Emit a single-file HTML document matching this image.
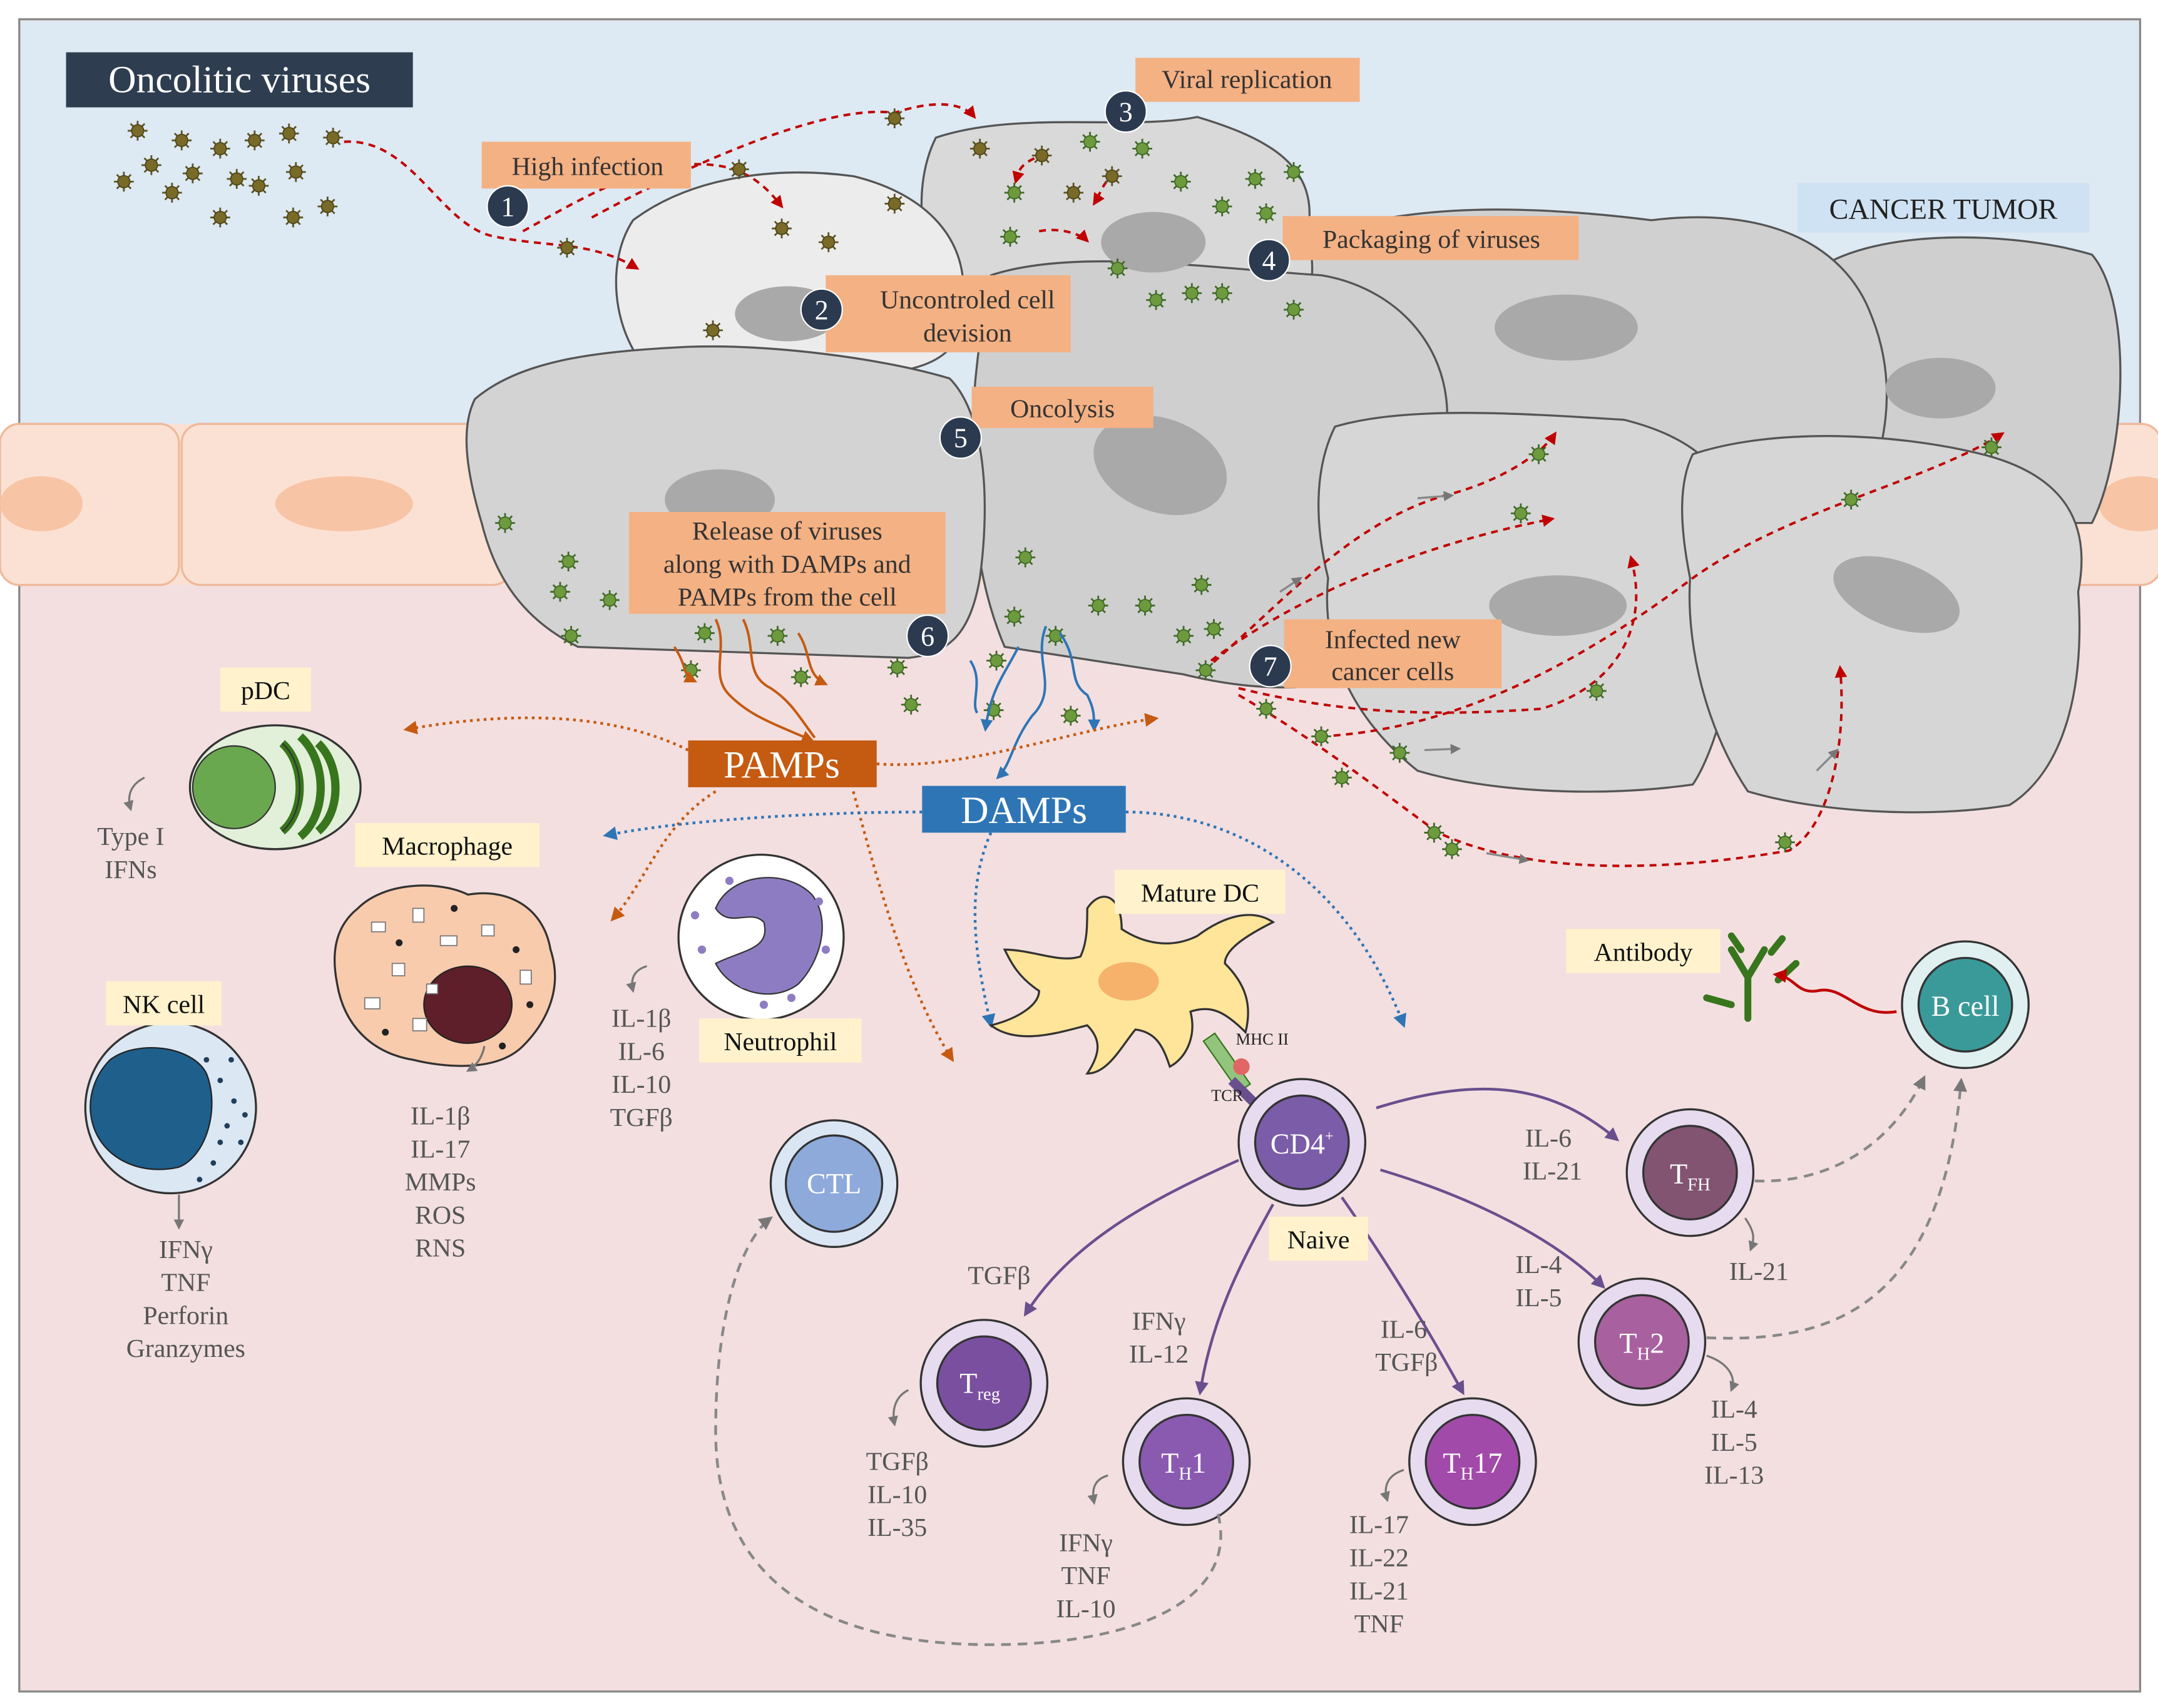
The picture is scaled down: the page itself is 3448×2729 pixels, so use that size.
<!DOCTYPE html>
<html><head><meta charset="utf-8"><style>
html,body{margin:0;padding:0;background:#fff}
svg{display:block}
text{font-family:"Liberation Serif",serif}
</style></head><body>
<svg width="3448" height="2729" viewBox="0 0 1568 1241" preserveAspectRatio="none" xmlns="http://www.w3.org/2000/svg">
<defs>
<symbol id="vb" viewBox="-10 -10 20 20" overflow="visible">
<g stroke="#5b5320" stroke-width="1.6"><line x1="-9" y1="0" x2="9" y2="0"/><line x1="0" y1="-9" x2="0" y2="9"/><line x1="-6.4" y1="-6.4" x2="6.4" y2="6.4"/><line x1="-6.4" y1="6.4" x2="6.4" y2="-6.4"/></g>
<circle r="5.5" fill="#7a6a28" stroke="#4d4418"/>
</symbol>
<symbol id="vg" viewBox="-10 -10 20 20" overflow="visible">
<g stroke="#3e6a25" stroke-width="1.6"><line x1="-9" y1="0" x2="9" y2="0"/><line x1="0" y1="-9" x2="0" y2="9"/><line x1="-6.4" y1="-6.4" x2="6.4" y2="6.4"/><line x1="-6.4" y1="6.4" x2="6.4" y2="-6.4"/></g>
<circle r="5.5" fill="#6d9a3c" stroke="#3e6a25"/>
</symbol>
<marker id="ar" viewBox="0 0 10 10" refX="8" refY="5" markerWidth="5" markerHeight="5" orient="auto"><path d="M0,0L10,5L0,10z" fill="#c00000"/></marker>
<marker id="ao" viewBox="0 0 10 10" refX="8" refY="5" markerWidth="5" markerHeight="5" orient="auto"><path d="M0,0L10,5L0,10z" fill="#c55a11"/></marker>
<marker id="ab" viewBox="0 0 10 10" refX="8" refY="5" markerWidth="5" markerHeight="5" orient="auto"><path d="M0,0L10,5L0,10z" fill="#2e75b6"/></marker>
<marker id="ap" viewBox="0 0 10 10" refX="8" refY="5" markerWidth="5" markerHeight="5" orient="auto"><path d="M0,0L10,5L0,10z" fill="#6a4f8e"/></marker>
<marker id="ag" viewBox="0 0 10 10" refX="8" refY="5" markerWidth="5" markerHeight="5" orient="auto"><path d="M0,0L10,5L0,10z" fill="#777"/></marker>
</defs>
<rect width="1568" height="1241" fill="#fff"/>
<rect x="14" y="14" width="1541" height="1215" fill="#f3dfe0" stroke="#888" stroke-width="1.5"/>
<rect x="15" y="15" width="1539" height="295" fill="#dde9f3"/>
<rect x="15" y="308" width="1539" height="117" fill="#fbe1d3"/>
<g fill="#fbe1d3" stroke="#f0b89a" stroke-width="1.5">
<rect x="0" y="308" width="130" height="117" rx="14"/>
<rect x="132" y="308" width="240" height="117" rx="14"/>
<rect x="1490" y="308" width="80" height="117" rx="14"/>
</g>
<g fill="#f7c4a6"><ellipse cx="250" cy="366" rx="50" ry="20"/><ellipse cx="30" cy="366" rx="30" ry="20"/><ellipse cx="1555" cy="366" rx="30" ry="20"/></g>
<!-- cancer cells -->
<g stroke="#555" stroke-width="1.5">
<path d="M1330,190 C1380,165 1470,170 1520,185 C1550,220 1545,330 1520,380 L1350,380 C1330,320 1320,250 1330,190z" fill="#cfcfcf"/>
<path d="M950,175 C1020,145 1120,150 1200,160 C1280,150 1340,175 1360,230 C1380,280 1370,330 1350,370 L1000,370 C960,330 940,260 950,175z" fill="#d0d0d0"/>
<path d="M680,100 C740,80 820,95 870,85 C920,100 960,120 950,170 C960,210 950,240 900,250 L700,240 C670,200 660,140 680,100z" fill="#d9d9d9"/>
<path d="M460,160 C500,130 560,120 620,128 C670,140 700,170 700,210 C705,245 690,265 650,270 L470,268 C445,240 440,190 460,160z" fill="#ececec"/>
<path d="M720,200 C780,180 880,195 960,200 C1020,210 1060,260 1050,320 C1060,400 1040,470 1000,490 C950,505 900,500 860,490 L730,470 C700,400 700,300 720,200z" fill="#cfcfcf"/>
<path d="M345,290 C380,260 440,255 500,252 C560,250 640,260 690,275 C715,300 720,360 712,420 C705,460 690,475 660,478 L420,470 C380,450 360,420 350,380 C338,340 335,310 345,290z" fill="#d3d3d3"/>
<path d="M970,310 C1020,295 1100,300 1180,305 C1240,320 1265,350 1260,400 C1270,460 1250,540 1230,570 C1160,580 1080,575 1030,560 C980,520 960,470 965,420 C955,380 955,340 970,310z" fill="#d6d6d6"/>
<path d="M1230,330 C1290,310 1380,315 1440,330 C1500,345 1520,380 1510,430 C1515,500 1500,560 1460,585 C1400,595 1320,590 1270,575 C1240,530 1225,470 1228,420 C1220,380 1220,350 1230,330z" fill="#d6d6d6"/>
</g>
<g fill="#a9a9a9">
<ellipse cx="1410" cy="282" rx="40" ry="22"/><ellipse cx="1138" cy="238" rx="52" ry="24"/>
<ellipse cx="838" cy="176" rx="38" ry="22"/><ellipse cx="572" cy="228" rx="38" ry="20"/>
<ellipse cx="843" cy="338" rx="50" ry="34" transform="rotate(20 843 338)"/><ellipse cx="523" cy="363" rx="40" ry="22"/>
<ellipse cx="1132" cy="440" rx="50" ry="22"/><ellipse cx="1378" cy="432" rx="48" ry="24" transform="rotate(20 1378 432)"/>
</g>
<!-- red dashed paths -->
<g fill="none" stroke="#c00000" stroke-width="1.8" stroke-dasharray="5,4">
<path d="M250,103 C300,100 320,165 360,172 C400,180 430,175 463,195" marker-end="url(#ar)"/>
<path d="M380,168 C430,140 480,110 530,122 C550,128 560,140 568,150" marker-end="url(#ar)"/>
<path d="M430,158 C500,120 600,75 650,82 C680,72 700,75 708,85" marker-end="url(#ar)"/>
<path d="M760,112 C740,118 740,125 738,132" marker-end="url(#ar)"/>
<path d="M810,125 C800,135 800,140 795,148" marker-end="url(#ar)"/>
<path d="M755,168 C770,165 785,170 790,175" marker-end="url(#ar)"/>
<path d="M875,487 C930,440 980,380 1050,360 C1090,350 1120,330 1130,315" marker-end="url(#ar)"/>
<path d="M880,480 C960,420 1060,390 1128,377" marker-end="url(#ar)"/>
<path d="M900,500 C980,520 1050,520 1120,515 C1170,500 1200,460 1185,405" marker-end="url(#ar)"/>
<path d="M960,535 C1060,530 1150,480 1230,420 C1300,370 1400,350 1455,315" marker-end="url(#ar)"/>
<path d="M900,505 C960,540 1010,580 1045,605 C1120,640 1230,630 1300,618 C1330,600 1342,540 1337,485" marker-end="url(#ar)"/>
</g>
<g fill="none" stroke="#888" stroke-width="1.5">
<path d="M1030,362 L1055,360" marker-end="url(#ag)"/><path d="M1035,545 L1060,544" marker-end="url(#ag)"/>
<path d="M1080,620 L1110,625" marker-end="url(#ag)"/><path d="M1320,560 L1335,545" marker-end="url(#ag)"/>
<path d="M930,430 L945,420" marker-end="url(#ag)"/>
</g>
<!-- viruses -->
<g>
<use href="#vb" x="-8" y="-8" width="16" height="16" transform="translate(100,95)"/>
<use href="#vb" x="-8" y="-8" width="16" height="16" transform="translate(132,102)"/>
<use href="#vb" x="-8" y="-8" width="16" height="16" transform="translate(160,108)"/>
<use href="#vb" x="-8" y="-8" width="16" height="16" transform="translate(185,102)"/>
<use href="#vb" x="-8" y="-8" width="16" height="16" transform="translate(210,97)"/>
<use href="#vb" x="-8" y="-8" width="16" height="16" transform="translate(242,100)"/>
<use href="#vb" x="-8" y="-8" width="16" height="16" transform="translate(110,120)"/>
<use href="#vb" x="-8" y="-8" width="16" height="16" transform="translate(140,126)"/>
<use href="#vb" x="-8" y="-8" width="16" height="16" transform="translate(172,130)"/>
<use href="#vb" x="-8" y="-8" width="16" height="16" transform="translate(215,125)"/>
<use href="#vb" x="-8" y="-8" width="16" height="16" transform="translate(90,132)"/>
<use href="#vb" x="-8" y="-8" width="16" height="16" transform="translate(125,140)"/>
<use href="#vb" x="-8" y="-8" width="16" height="16" transform="translate(160,158)"/>
<use href="#vb" x="-8" y="-8" width="16" height="16" transform="translate(213,158)"/>
<use href="#vb" x="-8" y="-8" width="16" height="16" transform="translate(238,150)"/>
<use href="#vb" x="-8" y="-8" width="16" height="16" transform="translate(188,135)"/>
<use href="#vb" x="-8" y="-8" width="16" height="16" transform="translate(412,180)"/>
<use href="#vb" x="-8" y="-8" width="16" height="16" transform="translate(537,123)"/>
<use href="#vb" x="-8" y="-8" width="16" height="16" transform="translate(568,166)"/>
<use href="#vb" x="-8" y="-8" width="16" height="16" transform="translate(602,176)"/>
<use href="#vb" x="-8" y="-8" width="16" height="16" transform="translate(650,148)"/>
<use href="#vb" x="-8" y="-8" width="16" height="16" transform="translate(650,86)"/>
<use href="#vb" x="-8" y="-8" width="16" height="16" transform="translate(518,240)"/>
<use href="#vb" x="-8" y="-8" width="16" height="16" transform="translate(712,108)"/>
<use href="#vb" x="-8" y="-8" width="16" height="16" transform="translate(757,113)"/>
<use href="#vb" x="-8" y="-8" width="16" height="16" transform="translate(808,128)"/>
<use href="#vb" x="-8" y="-8" width="16" height="16" transform="translate(780,140)"/>
</g>
<g>
<use href="#vg" x="-8" y="-8" width="16" height="16" transform="translate(792,103)"/>
<use href="#vg" x="-8" y="-8" width="16" height="16" transform="translate(830,108)"/>
<use href="#vg" x="-8" y="-8" width="16" height="16" transform="translate(858,132)"/>
<use href="#vg" x="-8" y="-8" width="16" height="16" transform="translate(888,150)"/>
<use href="#vg" x="-8" y="-8" width="16" height="16" transform="translate(912,130)"/>
<use href="#vg" x="-8" y="-8" width="16" height="16" transform="translate(940,125)"/>
<use href="#vg" x="-8" y="-8" width="16" height="16" transform="translate(920,155)"/>
<use href="#vg" x="-8" y="-8" width="16" height="16" transform="translate(737,140)"/>
<use href="#vg" x="-8" y="-8" width="16" height="16" transform="translate(734,172)"/>
<use href="#vg" x="-8" y="-8" width="16" height="16" transform="translate(812,195)"/>
<use href="#vg" x="-8" y="-8" width="16" height="16" transform="translate(840,218)"/>
<use href="#vg" x="-8" y="-8" width="16" height="16" transform="translate(866,213)"/>
<use href="#vg" x="-8" y="-8" width="16" height="16" transform="translate(888,213)"/>
<use href="#vg" x="-8" y="-8" width="16" height="16" transform="translate(940,225)"/>
<use href="#vg" x="-8" y="-8" width="16" height="16" transform="translate(367,380)"/>
<use href="#vg" x="-8" y="-8" width="16" height="16" transform="translate(413,408)"/>
<use href="#vg" x="-8" y="-8" width="16" height="16" transform="translate(407,430)"/>
<use href="#vg" x="-8" y="-8" width="16" height="16" transform="translate(443,436)"/>
<use href="#vg" x="-8" y="-8" width="16" height="16" transform="translate(415,462)"/>
<use href="#vg" x="-8" y="-8" width="16" height="16" transform="translate(512,460)"/>
<use href="#vg" x="-8" y="-8" width="16" height="16" transform="translate(565,462)"/>
<use href="#vg" x="-8" y="-8" width="16" height="16" transform="translate(502,487)"/>
<use href="#vg" x="-8" y="-8" width="16" height="16" transform="translate(582,492)"/>
<use href="#vg" x="-8" y="-8" width="16" height="16" transform="translate(652,485)"/>
<use href="#vg" x="-8" y="-8" width="16" height="16" transform="translate(662,512)"/>
<use href="#vg" x="-8" y="-8" width="16" height="16" transform="translate(724,480)"/>
<use href="#vg" x="-8" y="-8" width="16" height="16" transform="translate(722,516)"/>
<use href="#vg" x="-8" y="-8" width="16" height="16" transform="translate(778,520)"/>
<use href="#vg" x="-8" y="-8" width="16" height="16" transform="translate(745,405)"/>
<use href="#vg" x="-8" y="-8" width="16" height="16" transform="translate(737,448)"/>
<use href="#vg" x="-8" y="-8" width="16" height="16" transform="translate(767,462)"/>
<use href="#vg" x="-8" y="-8" width="16" height="16" transform="translate(798,440)"/>
<use href="#vg" x="-8" y="-8" width="16" height="16" transform="translate(832,440)"/>
<use href="#vg" x="-8" y="-8" width="16" height="16" transform="translate(873,425)"/>
<use href="#vg" x="-8" y="-8" width="16" height="16" transform="translate(882,457)"/>
<use href="#vg" x="-8" y="-8" width="16" height="16" transform="translate(860,462)"/>
<use href="#vg" x="-8" y="-8" width="16" height="16" transform="translate(876,487)"/>
<use href="#vg" x="-8" y="-8" width="16" height="16" transform="translate(920,515)"/>
<use href="#vg" x="-8" y="-8" width="16" height="16" transform="translate(960,535)"/>
<use href="#vg" x="-8" y="-8" width="16" height="16" transform="translate(975,565)"/>
<use href="#vg" x="-8" y="-8" width="16" height="16" transform="translate(1017,547)"/>
<use href="#vg" x="-8" y="-8" width="16" height="16" transform="translate(1042,605)"/>
<use href="#vg" x="-8" y="-8" width="16" height="16" transform="translate(1055,617)"/>
<use href="#vg" x="-8" y="-8" width="16" height="16" transform="translate(1118,330)"/>
<use href="#vg" x="-8" y="-8" width="16" height="16" transform="translate(1105,373)"/>
<use href="#vg" x="-8" y="-8" width="16" height="16" transform="translate(1160,502)"/>
<use href="#vg" x="-8" y="-8" width="16" height="16" transform="translate(1345,363)"/>
<use href="#vg" x="-8" y="-8" width="16" height="16" transform="translate(1447,325)"/>
<use href="#vg" x="-8" y="-8" width="16" height="16" transform="translate(1297,612)"/>
</g>
<!-- wavy PAMP/DAMP release -->
<g fill="none" stroke="#c55a11" stroke-width="1.8">
<path d="M520,450 C530,470 515,490 530,505 C545,520 560,525 590,538" marker-end="url(#ao)"/>
<path d="M540,450 C550,470 540,490 560,500 C575,510 580,520 592,536"/>
<path d="M580,460 C590,475 585,490 600,497" marker-end="url(#ao)"/>
<path d="M490,470 C500,485 495,490 505,495" marker-end="url(#ao)"/>
</g>
<g fill="none" stroke="#2e75b6" stroke-width="1.8">
<path d="M760,455 C750,480 770,500 750,520 C735,540 735,555 725,565" marker-end="url(#ab)"/>
<path d="M740,470 C730,490 720,500 716,530" marker-end="url(#ab)"/>
<path d="M770,460 C785,480 775,495 790,505 C795,515 795,520 795,530" marker-end="url(#ab)"/>
<path d="M705,480 C715,495 705,510 710,518"/>
</g>
<!-- dotted PAMP/DAMP spreading -->
<g fill="none" stroke="#c55a11" stroke-width="2" stroke-dasharray="2,3">
<path d="M500,545 C450,520 380,515 295,530" marker-end="url(#ao)"/>
<path d="M520,575 C480,600 470,640 445,668" marker-end="url(#ao)"/>
<path d="M620,575 C640,650 660,720 692,770" marker-end="url(#ao)"/>
<path d="M637,555 C700,560 780,530 840,522" marker-end="url(#ao)"/>
</g>
<g fill="none" stroke="#2e75b6" stroke-width="2" stroke-dasharray="2,3">
<path d="M670,590 C600,590 500,595 440,607" marker-end="url(#ab)"/>
<path d="M720,605 C700,650 710,700 720,745" marker-end="url(#ab)"/>
<path d="M818,590 C900,590 980,640 1020,745" marker-end="url(#ab)"/>
</g>
<!-- top labels -->
<rect x="48" y="38" width="252" height="40" fill="#2e3d50"/>
<text x="174" y="67" font-size="28" fill="#fff" text-anchor="middle">Oncolitic viruses</text>
<rect x="1306" y="133" width="212" height="36" fill="#cfe2f3"/>
<text x="1412" y="159" font-size="21" fill="#222" text-anchor="middle">CANCER TUMOR</text>
<g fill="#f4b183">
<rect x="350" y="103" width="152" height="34"/><rect x="825" y="42" width="163" height="32"/>
<rect x="932" y="157" width="215" height="32"/><rect x="600" y="200" width="178" height="56"/>
<rect x="706" y="281" width="132" height="30"/><rect x="457" y="372" width="230" height="74"/>
<rect x="933" y="450" width="158" height="50"/>
</g>
<g font-size="19" fill="#333" text-anchor="middle">
<text x="427" y="127">High infection</text><text x="906" y="64">Viral replication</text>
<text x="1040" y="180">Packaging of viruses</text>
<text x="703" y="224">Uncontroled cell</text><text x="703" y="248">devision</text>
<text x="772" y="303">Oncolysis</text>
<text x="572" y="392">Release of viruses</text><text x="572" y="416">along with DAMPs and</text><text x="572" y="440">PAMPs from the cell</text>
<text x="1012" y="471">Infected  new</text><text x="1012" y="494">cancer cells</text>
</g>
<g fill="#2b3a4f" stroke="#fff" stroke-width="1"><circle cx="369" cy="150" r="15"/><circle cx="597" cy="225" r="15"/><circle cx="818" cy="81" r="15"/><circle cx="922" cy="189" r="15"/><circle cx="698" cy="318" r="15"/><circle cx="674" cy="462" r="15"/><circle cx="923" cy="484" r="15"/></g>
<g font-size="20" fill="#fff" text-anchor="middle" font-family="Liberation Sans,sans-serif" style="font-family:'Liberation Sans',sans-serif"><text x="369" y="157">1</text><text x="597" y="232">2</text><text x="818" y="88">3</text><text x="922" y="196">4</text><text x="698" y="325">5</text><text x="674" y="469">6</text><text x="923" y="491">7</text></g>
<rect x="500" y="538" width="137" height="34" fill="#c55a11"/>
<text x="568" y="565" font-size="28" fill="#fff" text-anchor="middle">PAMPs</text>
<rect x="670" y="571" width="148" height="34" fill="#2e75b6"/>
<text x="744" y="598" font-size="28" fill="#fff" text-anchor="middle">DAMPs</text>
<!-- pDC -->
<ellipse cx="200" cy="572" rx="62" ry="45" fill="#e2efd9" stroke="#333" stroke-width="1.5"/>
<circle cx="170" cy="572" r="30" fill="#6aa84f" stroke="#333"/>
<g fill="none" stroke="#38761d" stroke-width="6"><path d="M205,540 C222,555 222,590 205,604"/><path d="M218,535 C238,553 238,592 218,608"/><path d="M231,540 C248,556 248,590 231,604"/></g>
<g fill="none" stroke="#333" stroke-width="1"><path d="M205,540 C222,555 222,590 205,604"/></g>
<!-- macrophage -->
<path d="M260,660 C280,640 320,640 340,650 C370,645 395,660 400,690 C410,720 395,745 380,760 C360,780 320,775 300,770 C270,765 250,745 245,715 C240,690 245,672 260,660z" fill="#f8cbad" stroke="#333" stroke-width="1.5"/>
<ellipse cx="340" cy="730" rx="32" ry="28" fill="#5e1f2a" stroke="#222"/>
<g fill="#fff" stroke="#777" stroke-width=".8"><rect x="270" y="670" width="10" height="7"/><rect x="300" y="660" width="8" height="10"/><rect x="320" y="680" width="12" height="7"/><rect x="285" y="700" width="9" height="9"/><rect x="265" y="725" width="11" height="8"/><rect x="300" y="740" width="10" height="9"/><rect x="350" y="672" width="9" height="8"/><rect x="378" y="705" width="8" height="10"/><rect x="310" y="715" width="8" height="7"/></g>
<g fill="#222"><circle cx="290" cy="685" r="2.5"/><circle cx="375" cy="690" r="2.5"/><circle cx="385" cy="730" r="2.5"/><circle cx="280" cy="750" r="2.5"/><circle cx="330" cy="660" r="2.5"/><circle cx="365" cy="760" r="2.5"/></g>
<!-- NK -->
<circle cx="124" cy="805" r="62" fill="#dbe7f3" stroke="#333" stroke-width="1.5"/>
<path d="M80,770 C100,755 140,760 150,780 C160,805 150,840 130,848 C100,855 70,840 66,810 C64,795 70,780 80,770z" fill="#1f5f8b" stroke="#222"/>
<g fill="#1f3f5b"><circle cx="160" cy="785" r="2"/><circle cx="170" cy="800" r="2"/><circle cx="165" cy="818" r="2"/><circle cx="175" cy="830" r="2"/><circle cx="155" cy="845" r="2"/><circle cx="150" cy="770" r="2"/><circle cx="168" cy="770" r="2"/><circle cx="178" cy="810" r="2"/><circle cx="160" cy="830" r="2"/><circle cx="145" cy="857" r="2"/></g>
<!-- neutrophil -->
<circle cx="553" cy="681" r="60" fill="#fff" stroke="#333" stroke-width="1.5"/>
<path d="M520,660 C530,635 570,630 590,650 C605,670 595,700 580,715 C560,730 530,720 520,700 C540,690 560,690 555,670 C545,660 530,675 520,660z" fill="#8e7cc3" stroke="#333"/>
<g fill="#8e7cc3"><circle cx="510" cy="690" r="3"/><circle cx="600" cy="690" r="3"/><circle cx="530" cy="640" r="3"/><circle cx="575" cy="725" r="3"/><circle cx="505" cy="665" r="3"/><circle cx="555" cy="730" r="3"/><circle cx="595" cy="655" r="3"/><circle cx="540" cy="715" r="3"/></g>
<!-- mature DC -->
<path d="M790,660 C800,645 815,650 815,675 C830,685 850,690 870,680 C890,665 910,660 925,670 C905,680 890,690 890,700 C905,715 910,730 905,750 C890,735 880,730 865,735 C870,755 860,770 850,775 C845,760 840,750 825,748 C815,760 805,780 790,780 C800,765 800,755 790,745 C770,750 740,760 720,745 C740,740 755,730 755,720 C740,710 735,700 730,690 C750,690 770,700 785,695 C790,685 790,672 790,660z" fill="#ffe599" stroke="#333" stroke-width="1.5"/>
<ellipse cx="820" cy="713" rx="22" ry="14" fill="#f6b26b"/>
<g transform="rotate(55 890 770)"><rect x="870" y="765" width="45" height="10" fill="#93c47d" stroke="#38761d"/></g>
<circle cx="902" cy="775" r="6" fill="#e06666"/>
<path d="M895,785 L915,805" stroke="#6a4f8e" stroke-width="7"/>
<text x="898" y="759" font-size="12" fill="#222">MHC II</text>
<text x="880" y="800" font-size="12" fill="#222">TCR</text>
<!-- T cells -->
<g stroke="#333" stroke-width="1.5">
<circle cx="946" cy="830" r="46" fill="#e6dbef"/><circle cx="946" cy="830" r="34" fill="#7b5ca8"/>
<circle cx="606" cy="860" r="46" fill="#dbe6f5"/><circle cx="606" cy="860" r="35" fill="#8eaadb"/>
<circle cx="715" cy="1005" r="46" fill="#e6dbef"/><circle cx="715" cy="1005" r="34" fill="#7a4fa0"/>
<circle cx="862" cy="1062" r="46" fill="#e6dbef"/><circle cx="862" cy="1062" r="34" fill="#8a5ab0"/>
<circle cx="1070" cy="1062" r="46" fill="#e6dbef"/><circle cx="1070" cy="1062" r="34" fill="#a24aaa"/>
<circle cx="1228" cy="852" r="46" fill="#e6dbef"/><circle cx="1228" cy="852" r="34" fill="#835472"/>
<circle cx="1193" cy="975" r="46" fill="#e6dbef"/><circle cx="1193" cy="975" r="34" fill="#a8619e"/>
<circle cx="1428" cy="730" r="46" fill="#e0f0f0"/><circle cx="1428" cy="730" r="34" fill="#3a9a9a"/>
</g>
<g font-size="21" fill="#fff" text-anchor="middle">
<text x="946" y="838">CD4<tspan font-size="11" dy="-9">+</tspan></text>
<text x="606" y="867">CTL</text>
<text x="712" y="1012">T<tspan font-size="13" dy="5">reg</tspan></text>
<text x="860" y="1070">T<tspan font-size="13" dy="5">H</tspan><tspan dy="-5">1</tspan></text>
<text x="1070" y="1070">T<tspan font-size="13" dy="5">H</tspan><tspan dy="-5">17</tspan></text>
<text x="1228" y="860">T<tspan font-size="13" dy="5">FH</tspan></text>
<text x="1193" y="983">T<tspan font-size="13" dy="5">H</tspan><tspan dy="-5">2</tspan></text>
<text x="1428" y="738">B cell</text>
</g>
<!-- purple arrows -->
<g fill="none" stroke="#6a4f8e" stroke-width="2" marker-end="url(#ap)">
<path d="M1000,805 C1080,780 1130,790 1175,828"/>
<path d="M1003,850 C1070,870 1130,900 1165,935"/>
<path d="M975,870 C1010,920 1040,970 1063,1012"/>
<path d="M925,875 C900,920 880,960 872,1012"/>
<path d="M900,843 C840,870 780,900 745,955"/>
</g>
<!-- antibody -->
<g stroke="#38761d" stroke-width="5" fill="none" stroke-linecap="round">
<path d="M1270,740 L1270,710 L1258,690 M1270,710 L1282,690 M1265,690 L1258,680 M1287,692 L1295,682"/>
<path d="M1240,725 L1258,730"/><path d="M1292,712 L1305,700"/>
</g>
<path d="M1378,735 C1350,740 1340,715 1320,720 C1305,722 1305,710 1290,708" fill="none" stroke="#c00000" stroke-width="2" marker-end="url(#ar)"/>
<!-- gray dashed -->
<g fill="none" stroke="#888" stroke-width="2" stroke-dasharray="7,5" marker-end="url(#ag)">
<path d="M1275,858 C1320,860 1370,840 1398,783"/>
<path d="M1240,972 C1320,975 1410,960 1425,785"/>
<path d="M885,1100 C900,1160 830,1195 720,1195 C600,1195 520,1150 520,1040 C520,950 540,900 560,885"/>
</g>
<!-- small gray curve arrows -->
<g fill="none" stroke="#777" stroke-width="1.5" marker-end="url(#ag)">
<path d="M105,565 C95,570 92,578 95,588"/><path d="M352,760 C350,770 345,775 340,778"/>
<path d="M470,702 C460,705 458,712 460,720"/><path d="M130,868 L130,892"/>
<path d="M660,1010 C650,1015 648,1025 650,1035"/><path d="M805,1072 C795,1075 793,1082 795,1092"/>
<path d="M1020,1068 C1008,1072 1005,1080 1008,1090"/><path d="M1268,885 C1275,895 1275,900 1272,908"/>
<path d="M1240,985 C1255,990 1262,1000 1258,1010"/>
</g>
<!-- cream labels -->
<g fill="#fff2cc"><rect x="160" y="485" width="66" height="32"/><rect x="258" y="598" width="134" height="32"/><rect x="77" y="713" width="84" height="32"/><rect x="810" y="632" width="124" height="32"/><rect x="508" y="740" width="118" height="32"/><rect x="1138" y="675" width="112" height="32"/><rect x="922" y="884" width="72" height="32"/></g>
<g font-size="19" fill="#111" text-anchor="middle">
<text x="193" y="508">pDC</text><text x="325" y="621">Macrophage</text><text x="119" y="736">NK cell</text>
<text x="872" y="655">Mature DC</text><text x="567" y="763">Neutrophil</text><text x="1194" y="698">Antibody</text><text x="958" y="907">Naive</text>
</g>
<!-- cytokines -->
<g font-size="19" fill="#555" text-anchor="middle">
<text x="95" y="614">Type I</text><text x="95" y="638">IFNs</text>
<text x="320" y="817">IL-1β</text><text x="320" y="841">IL-17</text><text x="320" y="865">MMPs</text><text x="320" y="889">ROS</text><text x="320" y="913">RNS</text>
<text x="466" y="746">IL-1β</text><text x="466" y="770">IL-6</text><text x="466" y="794">IL-10</text><text x="466" y="818">TGFβ</text>
<text x="135" y="914">IFNγ</text><text x="135" y="938">TNF</text><text x="135" y="962">Perforin</text><text x="135" y="986">Granzymes</text>
<text x="726" y="933">TGFβ</text>
<text x="652" y="1068">TGFβ</text><text x="652" y="1092">IL-10</text><text x="652" y="1116">IL-35</text>
<text x="842" y="966">IFNγ</text><text x="842" y="990">IL-12</text>
<text x="789" y="1127">IFNγ</text><text x="789" y="1151">TNF</text><text x="789" y="1175">IL-10</text>
<text x="1020" y="972">IL-6</text><text x="1022" y="996">TGFβ</text>
<text x="1002" y="1114">IL-17</text><text x="1002" y="1138">IL-22</text><text x="1002" y="1162">IL-21</text><text x="1002" y="1186">TNF</text>
<text x="1125" y="833">IL-6</text><text x="1128" y="857">IL-21</text>
<text x="1118" y="925">IL-4</text><text x="1118" y="949">IL-5</text>
<text x="1278" y="930">IL-21</text>
<text x="1260" y="1030">IL-4</text><text x="1260" y="1054">IL-5</text><text x="1260" y="1078">IL-13</text>
</g>
</svg>
</body></html>
